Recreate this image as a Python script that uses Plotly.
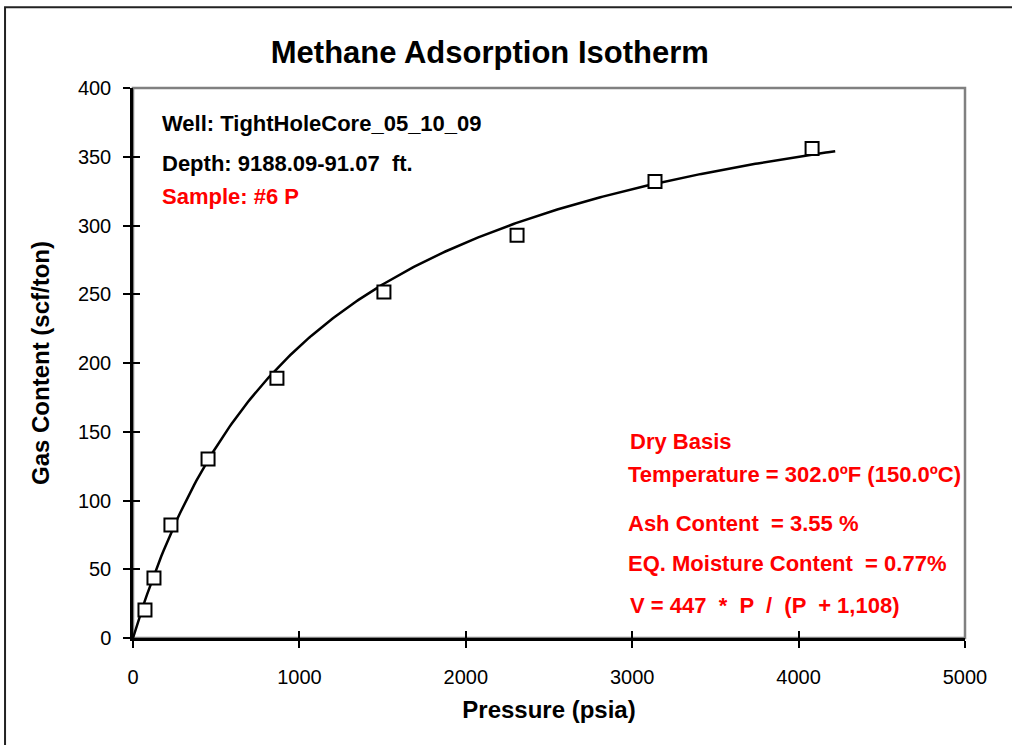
import numpy as np
import plotly.graph_objects as go

pressure_psia = [72, 126, 228, 451, 865, 1508, 2308, 3137, 4081]
gas_content = [20.4, 43.6, 82.2, 130.2, 189, 251.6, 293, 332, 356]

# Langmuir fit parameters shown on the chart
VL = 447
PL = 1108
fit_p_max = 4220

x_ticks = [0, 1000, 2000, 3000, 4000, 5000]
y_ticks = [0, 50, 100, 150, 200, 250, 300, 350, 400]

fit_p = np.linspace(0, fit_p_max, 300)
fit_v = VL * fit_p / (fit_p + PL)

FONT = "Liberation Sans, Arial, Helvetica, sans-serif"

fig = go.Figure()
fig.add_trace(go.Scatter(x=fit_p, y=fit_v, mode="lines",
                         line=dict(color="black", width=2.5),
                         showlegend=False, hoverinfo="skip"))
fig.add_trace(go.Scatter(x=pressure_psia, y=gas_content, mode="markers",
                         marker=dict(symbol="square", size=13, color="white",
                                     line=dict(color="black", width=2)),
                         showlegend=False))
# invisible trace on overlay axes for crossing ticks
fig.add_trace(go.Scatter(x=[0], y=[0], xaxis="x2", yaxis="y2", mode="markers",
                         marker=dict(opacity=0), showlegend=False, hoverinfo="skip"))

fig.update_layout(
    width=1012, height=745,
    margin=dict(l=133, r=47, t=88, b=107),
    paper_bgcolor="white", plot_bgcolor="white",
    font=dict(family=FONT, color="black"),
    title=dict(text="<b>Methane Adsorption Isotherm</b>", x=0.484, xanchor="center",
               y=0.93, yanchor="middle", font=dict(size=31, family=FONT)),
    xaxis=dict(range=[0, 5000], tickvals=x_ticks, ticks="outside", ticklen=7, tickwidth=2,
               tickcolor="black", showline=True, linecolor="black", linewidth=2.5,
               showgrid=False, zeroline=False, tickfont=dict(size=20),
               ticklabelstandoff=12,
               title=dict(text="<b>Pressure (psia)</b>", font=dict(size=24), standoff=15)),
    yaxis=dict(range=[0, 400], tickvals=y_ticks, ticks="outside", ticklen=7, tickwidth=2,
               tickcolor="black", showline=True, linecolor="black", linewidth=2.5,
               showgrid=False, zeroline=False, tickfont=dict(size=20),
               ticklabelstandoff=8,
               title=dict(text="<b>Gas Content (scf/ton)</b>", font=dict(size=24), standoff=22)),
    xaxis2=dict(range=[0, 5000], tickvals=x_ticks, overlaying="x", side="bottom",
                ticks="inside", ticklen=7, tickwidth=2, tickcolor="black",
                showticklabels=False, showgrid=False, zeroline=False, showline=False),
    yaxis2=dict(range=[0, 400], tickvals=y_ticks, overlaying="y", side="left",
                ticks="inside", ticklen=7, tickwidth=2, tickcolor="black",
                showticklabels=False, showgrid=False, zeroline=False, showline=False),
    shapes=[
        dict(type="rect", xref="paper", yref="paper", x0=0, x1=1, y0=0, y1=1,
             line=dict(color="#808080", width=2.5), layer="below"),
        dict(type="rect", xref="paper", yref="paper", x0=-0.1538, x1=1.07, y0=-0.25, y1=1.147,
             line=dict(color="#222222", width=2)),
    ],
)

black_notes = [("Well: TightHoleCore_05_10_09", 160, 124),
               ("Depth: 9188.09-91.07  ft.", 160, 163)]
red_notes = [("Sample: #6 P", 160, 196),
             ("Dry Basis", 628, 441),
             ("Temperature = 302.0ºF (150.0ºC)", 626, 474),
             ("Ash Content  = 3.55 %", 626, 523),
             ("EQ. Moisture Content  = 0.77%", 626, 563),
             ("V = 447  *  P  /  (P  + 1,108)", 628, 605)]

def px_to_paper(px, py):
    return (px - 133) / 832, (638 - py) / 550

for text, px, py in black_notes + red_notes:
    color = "black" if (text, px, py) in black_notes else "#ff0000"
    xp, yp = px_to_paper(px, py)
    fig.add_annotation(text=f"<b>{text}</b>", xref="paper", yref="paper", x=xp, y=yp,
                       xanchor="left", yanchor="middle", showarrow=False,
                       font=dict(size=22, color=color, family=FONT))

fig.write_html("out.html", config={"displayModeBar": False},
               post_script="document.body.style.margin='0';")
